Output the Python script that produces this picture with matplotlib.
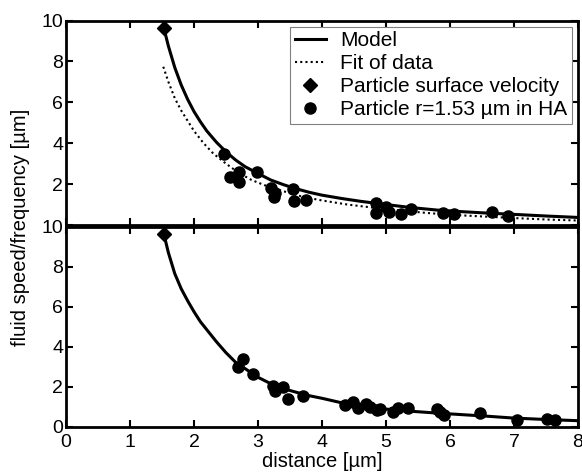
import matplotlib
matplotlib.use("Agg")
import matplotlib.pyplot as plt

plt.rcParams['font.family'] = ['Liberation Sans', 'DejaVu Sans']
plt.rcParams['font.size'] = 14

# --- top panel: model curve, fit of data, measured points
top_model_x = [1.53, 1.6, 1.7, 1.8, 1.9, 2.0, 2.1, 2.2, 2.35, 2.5, 2.65, 2.8, 3.0, 3.2, 3.4,
               3.6, 3.8, 4.0, 4.3, 4.6, 5.0, 5.4, 5.8, 6.2, 6.6, 7.0, 7.5, 8.0]
top_model_y = [9.62, 8.75, 7.7, 6.85, 6.15, 5.55, 5.05, 4.6, 4.05, 3.58, 3.18, 2.85, 2.52, 2.2, 1.97,
               1.77, 1.6, 1.46, 1.3, 1.16, 1.0, 0.85, 0.73, 0.65, 0.58, 0.52, 0.44, 0.37]
fit_x = [1.52, 1.6, 1.7, 1.8, 1.9, 2.0, 2.15, 2.3, 2.5, 2.7, 2.9, 3.1, 3.4, 3.7, 4.0, 4.4,
         4.8, 5.2, 5.6, 6.0, 6.5, 7.0, 7.5, 8.0]
fit_y = [7.74, 7.0, 6.2, 5.6, 5.1, 4.6, 4.0, 3.5, 3.0, 2.55, 2.2, 1.95, 1.65, 1.38, 1.2, 1.0,
         0.85, 0.72, 0.6, 0.5, 0.42, 0.34, 0.27, 0.22]
top_pts_x = [2.47, 2.56, 2.71, 2.71, 2.98, 3.2, 3.27, 3.25, 3.54, 3.56, 3.75,
             4.85, 4.84, 5.0, 5.05, 5.24, 5.39, 5.89, 6.07, 6.65, 6.91]
top_pts_y = [3.46, 2.33, 2.58, 2.1, 2.61, 1.83, 1.55, 1.38, 1.76, 1.19, 1.22,
             1.09, 0.6, 0.9, 0.64, 0.54, 0.77, 0.57, 0.54, 0.65, 0.46]
surf_x = [1.53]
surf_y = [9.62]

# --- bottom panel
bot_model_x = [1.53, 1.6, 1.7, 1.8, 1.9, 2.0, 2.1, 2.2, 2.35, 2.5, 2.65, 2.8, 3.0, 3.2, 3.4,
               3.6, 3.8, 4.0, 4.3, 4.6, 5.0, 5.4, 5.8, 6.2, 6.6, 7.0, 7.5, 8.0]
bot_model_y = [9.62, 8.7, 7.65, 6.9, 6.3, 5.75, 5.25, 4.85, 4.25, 3.7, 3.22, 2.9, 2.47, 2.15, 1.9,
               1.72, 1.55, 1.42, 1.2, 1.05, 0.88, 0.77, 0.68, 0.6, 0.52, 0.43, 0.36, 0.3]
bot_pts_x = [2.77, 2.69, 2.92, 3.23, 3.27, 3.39, 3.47, 3.71, 4.36, 4.49, 4.57, 4.69, 4.75,
             4.86, 4.9, 5.11, 5.19, 5.35, 5.79, 5.84, 5.91, 6.47, 7.05, 7.51, 7.64]
bot_pts_y = [3.37, 3.0, 2.62, 2.03, 1.8, 1.97, 1.38, 1.55, 1.08, 1.22, 0.92, 1.13, 1.0,
             0.83, 0.87, 0.75, 0.92, 0.95, 0.87, 0.75, 0.58, 0.7, 0.33, 0.37, 0.33]

fig = plt.figure(figsize=(5.82, 4.73), dpi=100)
ax1 = fig.add_axes([0.1134, 0.5243, 0.8797, 0.4323])
ax2 = fig.add_axes([0.1134, 0.0979, 0.8797, 0.4228])

ms = 8
for ax in (ax1, ax2):
    ax.set_xlim(0, 8)
    ax.set_ylim(0, 10)
    ax.set_xticks(range(0, 9))
    ax.set_yticks(range(0, 11, 2))
    ax.tick_params(direction='in', top=True, right=True, length=5, width=1.5,
                   labelsize=14, pad=2)
    for s in ax.spines.values():
        s.set_linewidth(2)
ax2.tick_params(axis='x', pad=5)

ax1.plot(top_model_x, top_model_y, color='black', lw=2.2, label='Model')
ax1.plot(fit_x, fit_y, color='black', lw=1.5, ls=(0, (1, 1.5)), label='Fit of data')
ax1.plot(surf_x, surf_y, 'D', color='black', ms=7, label='Particle surface velocity')
ax1.plot(top_pts_x, top_pts_y, 'o', color='black', ms=ms, label='Particle r=1.53 µm in HA')
ax1.set_xticklabels([])
ax1.set_yticklabels(['', '2', '4', '6', '8', '10'])
leg = ax1.legend(loc='upper right', fancybox=False, framealpha=1, edgecolor='gray',
                 fontsize=15, handlelength=1.5, borderpad=0.2, labelspacing=0.2,
                 handletextpad=0.7, borderaxespad=0.3, numpoints=1)
leg.get_frame().set_linewidth(0.8)

ax2.plot(bot_model_x, bot_model_y, color='black', lw=2.2)
ax2.plot(surf_x, surf_y, 'D', color='black', ms=7)
ax2.plot(bot_pts_x, bot_pts_y, 'o', color='black', ms=ms)
ax2.set_xlabel('distance [µm]', fontsize=14.5, labelpad=1)

fig.text(0.035, 0.52, 'fluid speed/frequency [µm]', rotation=90, va='center', ha='center',
         fontsize=14.5)

fig.savefig('out.png', dpi=100)
